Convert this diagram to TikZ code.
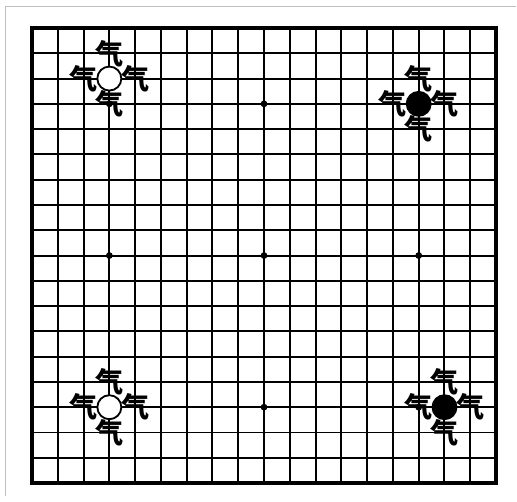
\documentclass[tikz,border=0pt]{standalone}
\usepackage{fontspec}
\newfontfamily\cjk{Noto Sans CJK SC}
\usetikzlibrary{positioning}

\begin{document}
\begin{tikzpicture}[
  x=0.6445cm, y=0.632cm,
  gridline/.style={line width=1.4pt},
  stone/.style={circle, draw, line width=1.3pt, minimum size=0.6cm, inner sep=0pt},
  white stone/.style={stone, fill=white},
  black stone/.style={stone, fill=black},
  qi/.style={inner sep=0pt, font=\cjk\bfseries\fontsize{20}{20}\selectfont},
  node distance=0.632cm and 0.6445cm, on grid
]
  \useasboundingbox (-0.8cm,0.7cm) rectangle (12.125cm,-11.85cm);
  % faint edge of the scanned page
  \draw[black!25, line width=0.5pt] (-0.675cm,-11.7cm) -- (-0.675cm,0.55cm) -- (12.1cm,0.55cm);
  % board
  \foreach \i in {1,...,17} {
    \draw[gridline] (\i,0) -- (\i,-18);
    \draw[gridline] (0,-\i) -- (18,-\i);
  }
  \draw[line width=2.4pt] (0,0) rectangle (18,-18);
  \foreach \c/\r in {3/3,9/3,15/3,3/9,9/9,15/9,3/15,9/15,15/15}
    \fill (\c,-\r) circle (0.085cm);
  % stones
  \node[white stone] (w1) at (3,-2) {};
  \node[black stone] (b1) at (15,-3) {};
  \node[white stone] (w2) at (3,-15) {};
  \node[black stone] (b2) at (16,-15) {};
  % liberties
  \foreach \s in {w1,b1,w2,b2} {
    \node[qi, above=of \s] {气};
    \node[qi, below=of \s] {气};
    \node[qi, left=of \s] {气};
    \node[qi, right=of \s] {气};
  }
\end{tikzpicture}
\end{document}
